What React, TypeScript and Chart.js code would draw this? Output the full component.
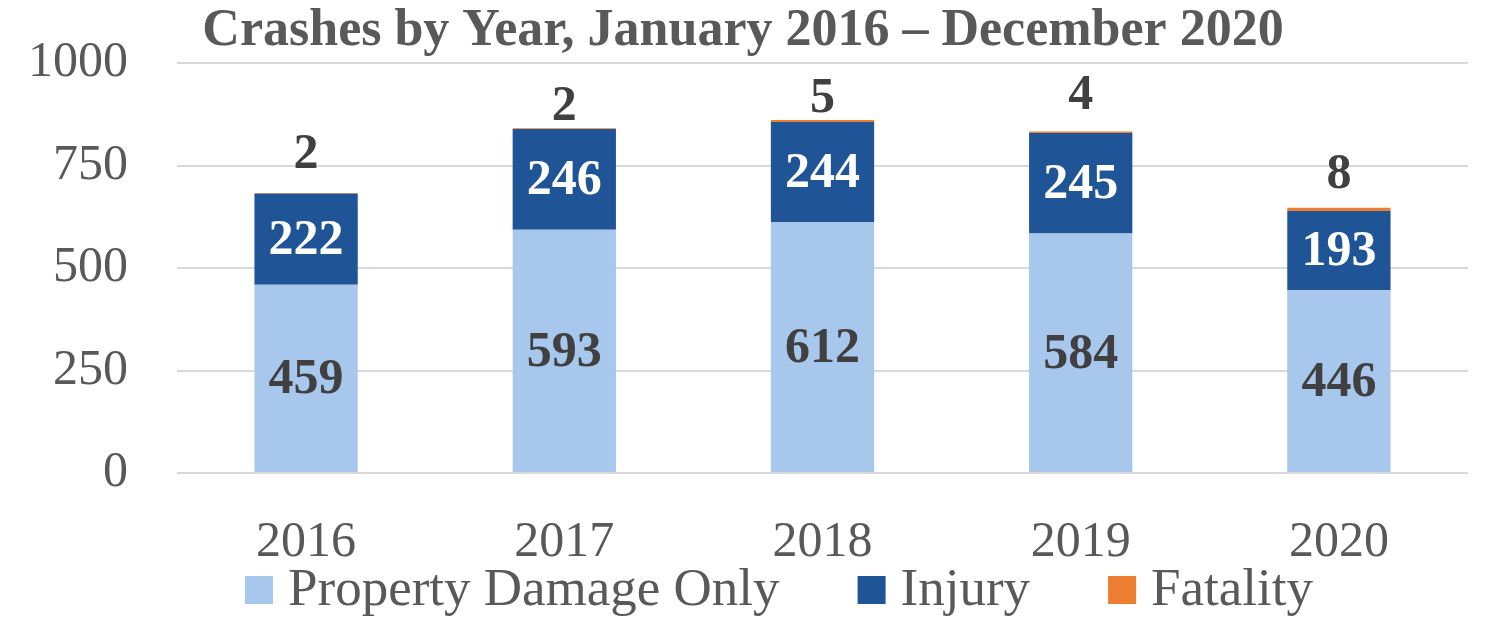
import React, { useEffect, useRef } from "react";
import { Chart, registerables } from "chart.js";

Chart.register(...registerables);

const years = ["2016", "2017", "2018", "2019", "2020"];
const propertyDamageOnly = [459, 593, 612, 584, 446];
const injury = [222, 246, 244, 245, 193];
const fatality = [2, 2, 5, 4, 8];
const yTicks = [0, 250, 500, 750, 1000];
const titleText = "Crashes by Year, January 2016 – December 2020";

const FONT = "'Liberation Serif', 'Times New Roman', serif";
const fatalityLabelLift = [38, 21, 21, 35, 33];

const valueLabels = {
  id: "valueLabels",
  afterDatasetsDraw(chart: any) {
    const ctx = chart.ctx;
    ctx.save();
    ctx.font = `bold 50px ${FONT}`;
    ctx.textAlign = "center";
    ctx.textBaseline = "middle";
    chart.data.datasets.forEach((ds: any, i: number) => {
      const meta = chart.getDatasetMeta(i);
      meta.data.forEach((bar: any, j: number) => {
        const { x, y, base } = bar.getProps(["x", "y", "base"], true);
        const v = ds.data[j];
        if (i === 0) {
          ctx.fillStyle = "#404040";
          ctx.fillText(String(v), x, (y + base) / 2 + 2);
        } else if (i === 1) {
          ctx.fillStyle = "#ffffff";
          ctx.fillText(String(v), x, (y + base) / 2 + 2);
        } else {
          ctx.fillStyle = "#404040";
          ctx.fillText(String(v), x, y - fatalityLabelLift[j]);
        }
      });
    });
    ctx.restore();
  },
};

const titleAndLegend = {
  id: "titleAndLegend",
  afterDraw(chart: any) {
    const ctx = chart.ctx;
    ctx.save();
    ctx.font = `bold 52px ${FONT}`;
    ctx.fillStyle = "#595959";
    ctx.textAlign = "center";
    ctx.textBaseline = "alphabetic";
    ctx.fillText(titleText, 743, 45);
    ctx.font = `53px ${FONT}`;
    ctx.textAlign = "left";
    let x = 245;
    const box = 28;
    const boxTop = 576;
    const baseline = 605;
    chart.data.datasets.forEach((ds: any) => {
      ctx.fillStyle = ds.backgroundColor;
      ctx.fillRect(x, boxTop, box, box);
      ctx.fillStyle = "#595959";
      const tx = x + box + 15;
      ctx.fillText(ds.label, tx, baseline);
      x = tx + ctx.measureText(ds.label).width + 78;
    });
    ctx.restore();
  },
};

export default function App() {
  const ref = useRef<HTMLCanvasElement>(null);
  useEffect(() => {
    if (!ref.current) return;
    const chart = new Chart(ref.current, {
      type: "bar",
      data: {
        labels: years,
        datasets: [
          { label: "Property Damage Only", data: propertyDamageOnly, backgroundColor: "#a7c7ed" },
          { label: "Injury", data: injury, backgroundColor: "#1f5596" },
          { label: "Fatality", data: fatality, backgroundColor: "#ed7d31" },
        ],
      },
      options: {
        responsive: false,
        animation: false,
        layout: { padding: { left: 28, right: 18, top: 63, bottom: 53 } },
        datasets: { bar: { barPercentage: 0.4, categoryPercentage: 1 } },
        plugins: {
          title: { display: false },
          legend: { display: false },
          tooltip: { enabled: false },
        },
        scales: {
          x: {
            stacked: true,
            grid: { display: false },
            border: { display: false },
            ticks: { color: "#595959", font: { family: FONT, size: 50 }, padding: 32 },
            afterFit: (axis: any) => {
              axis.height = 92;
              axis.paddingLeft = 0;
              axis.paddingRight = 0;
            },
          },
          y: {
            stacked: true,
            min: 0,
            max: 1000,
            afterBuildTicks: (axis: any) => {
              axis.ticks = yTicks.map((v) => ({ value: v }));
            },
            afterFit: (axis: any) => {
              axis.width = 149;
              axis.paddingTop = 0;
              axis.paddingBottom = 0;
            },
            grid: { color: "#d9d9d9", lineWidth: 2, drawTicks: false },
            border: { display: false },
            ticks: {
              color: "#595959",
              font: { family: FONT, size: 50 },
              padding: 49,
              callback: (v: any) => String(v),
            },
          },
        },
      },
      plugins: [valueLabels, titleAndLegend],
    });
    return () => chart.destroy();
  }, []);
  return (
    <div style={{ position: "fixed", left: 0, top: 0, width: 1486, height: 618, background: "#fff" }}>
      <canvas ref={ref} width={1486} height={618} />
    </div>
  );
}
